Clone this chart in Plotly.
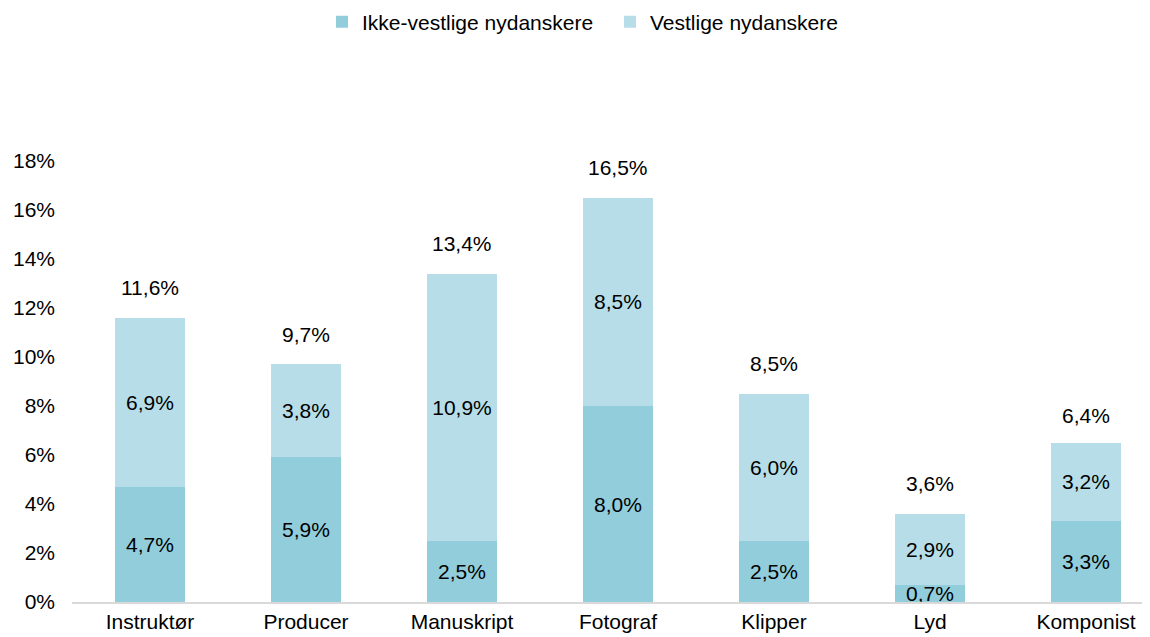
import plotly.graph_objects as go

categories = ["Instruktør", "Producer", "Manuskript", "Fotograf", "Klipper", "Lyd", "Komponist"]
ikke_vestlige = [4.7, 5.9, 2.5, 8.0, 2.5, 0.7, 3.3]
vestlige = [6.9, 3.8, 10.9, 8.5, 6.0, 2.9, 3.2]
totals = [11.6, 9.7, 13.4, 16.5, 8.5, 3.6, 6.4]
y_ticks = [0, 2, 4, 6, 8, 10, 12, 14, 16, 18]


def pct(v):
    return f"{v:.1f}".replace(".", ",") + "%"


font = dict(family="Liberation Sans, Arial, sans-serif", size=21, color="#000000")

fig = go.Figure()
fig.add_trace(go.Bar(
    x=categories, y=ikke_vestlige, name="Ikke-vestlige nydanskere",
    marker=dict(color="#92CDDC", line_width=0),
    text=[pct(v) for v in ikke_vestlige], textposition="inside",
    insidetextanchor="middle", constraintext="none", textfont=font,
    width=0.45, hoverinfo="skip"))
fig.add_trace(go.Bar(
    x=categories, y=vestlige, name="Vestlige nydanskere",
    marker=dict(color="#B7DEE8", line_width=0),
    text=[pct(v) for v in vestlige], textposition="inside",
    insidetextanchor="middle", constraintext="none", textfont=font,
    width=0.45, hoverinfo="skip"))

# totals above each stack
for c, t in zip(categories, totals):
    fig.add_annotation(x=c, y=t, text=pct(t), showarrow=False,
                       yshift=30, font=font)

# page body has an 8px margin, so the figure is 8px smaller than the window
W, H = 1142, 629
T, B, L = 153, 35, 64

fig.update_layout(
    barmode="stack",
    width=W, height=H,
    paper_bgcolor="white", plot_bgcolor="white",
    font=font,
    margin=dict(l=L, r=0, t=T, b=B, autoexpand=False),
    legend=dict(orientation="h", xanchor="left",
                x=(362 - 72 - 40) / (W - L),
                yref="container", y=1 - 14 / H, yanchor="middle",
                font=font, itemwidth=30, entrywidth=243,
                traceorder="normal"),
    xaxis=dict(range=[-0.5, 6.41], showline=True, linecolor="#D9D9D9",
               linewidth=2, ticks="", tickfont=font, showgrid=False,
               automargin=False),
    yaxis=dict(range=[0, 18], tickvals=y_ticks,
               ticktext=[f"{v}%" for v in y_ticks], showgrid=False,
               zeroline=False, showline=False, tickfont=font, ticklen=0,
               ticklabelstandoff=16, automargin=False),
)

fig.write_html("out.html")
